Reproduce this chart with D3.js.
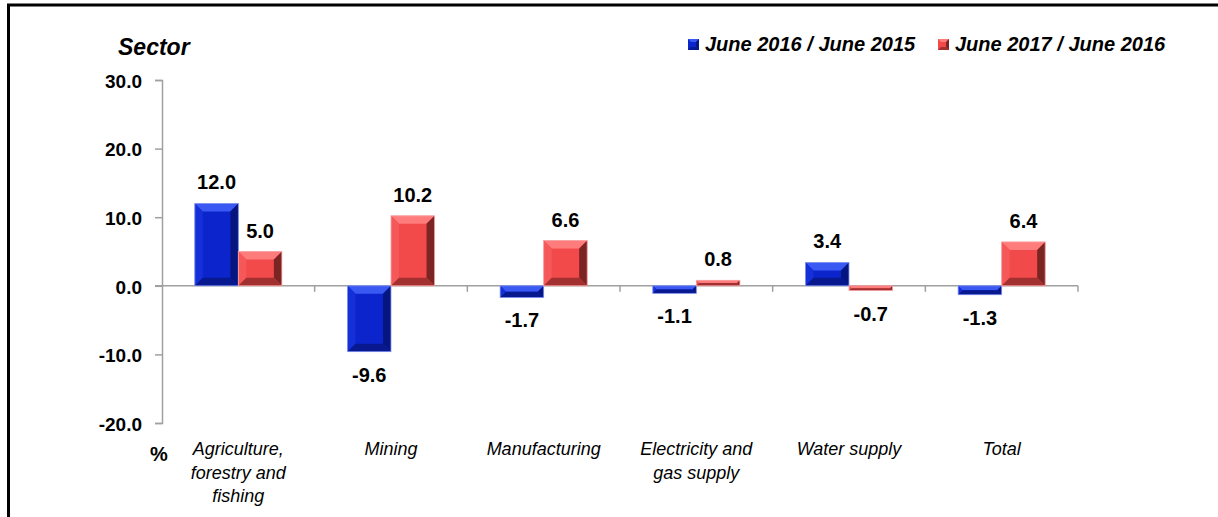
<html>
<head>
<meta charset="utf-8">
<script src="https://d3js.org/d3.v7.min.js"></script>
<style>
body { margin: 0; background: #fff; }
svg { font-family: "Liberation Sans", Arial, sans-serif; }
.tick text { font-weight: bold; font-size: 19px; fill: #000; }
</style>
</head>
<body>
<svg id="chart" width="1218" height="517"></svg>
<script>
// chart data
var categories = ["Agriculture,\nforestry and\nfishing", "Mining", "Manufacturing", "Electricity and\ngas supply", "Water supply", "Total"];
var seriesNames = ["June 2016 / June 2015", "June 2017 / June 2016"];
var june2016 = [12.0, -9.6, -1.7, -1.1, 3.4, -1.3];
var june2017 = [5.0, 10.2, 6.6, 0.8, -0.7, 6.4];
var yTicks = [-20, -10, 0, 10, 20, 30];

var fmt = function(v) { return d3.format(".1f")(v).replace("\u2212", "-"); };

var svg = d3.select("#chart");

// frame lines (top and left)
svg.append("line").attr("x1", 7).attr("x2", 1218).attr("y1", 5).attr("y2", 5)
    .attr("stroke", "#000").attr("stroke-width", 3);
svg.append("line").attr("x1", 8.5).attr("x2", 8.5).attr("y1", 4).attr("y2", 517)
    .attr("stroke", "#000").attr("stroke-width", 3);

var x = d3.scaleBand().domain(categories).range([162, 1078]).paddingInner(0).paddingOuter(0);
var xs = d3.scaleBand().domain([0, 1]).range([0, x.bandwidth()]).paddingInner(0).paddingOuter(0.754);
var y = d3.scaleLinear().domain([-20, 30]).range([423, 80]);

// y axis
var yAxis = svg.append("g").attr("transform", "translate(162,0)")
    .call(d3.axisLeft(y).tickValues(yTicks).tickSize(7).tickPadding(13).tickFormat(fmt));
yAxis.select(".domain").attr("stroke", "#a0a0a0").attr("stroke-width", 1.5);
yAxis.selectAll(".tick line").attr("stroke", "#a0a0a0").attr("stroke-width", 1.5);
yAxis.selectAll(".tick text").attr("dy", "0.38em");

// x axis at zero
var xAxis = svg.append("g").attr("transform", "translate(0," + y(0) + ")");
xAxis.append("line").attr("x1", x.range()[0] - 7).attr("x2", x.range()[1])
    .attr("stroke", "#a0a0a0").attr("stroke-width", 1.5);
var bounds = categories.map(function(c) { return x(c); }).concat([x.range()[1]]);
xAxis.selectAll("line.xt").data(bounds.slice(1)).enter().append("line")
    .attr("class", "xt")
    .attr("x1", function(d) { return d; }).attr("x2", function(d) { return d; })
    .attr("y1", 0).attr("y2", 6)
    .attr("stroke", "#a0a0a0").attr("stroke-width", 1.5);

// bevelled bar colours
var palettes = [
  { base: "#0b24cc", top: "#3a58f2", left: "#1530d8", right: "#061680", bottom: "#08198f", edge: "#8a9af0" },
  { base: "#f24a4a", top: "#ff7c7c", left: "#f55858", right: "#7a2424", bottom: "#a33030", edge: "#f7a8a8" }
];

function drawBar(g, x0, w, v, p) {
  var yTop = y(Math.max(v, 0)), yBot = y(Math.min(v, 0));
  var h = yBot - yTop;
  var b = Math.min(8, h / 2, w / 2);
  var x1 = x0 + w;
  g.append("rect").attr("x", x0).attr("y", yTop).attr("width", w).attr("height", h).attr("fill", p.base);
  var poly = function(pts, fill) {
    g.append("polygon").attr("points", pts.map(function(q) { return q.join(","); }).join(" ")).attr("fill", fill);
  };
  poly([[x0, yTop], [x1, yTop], [x1 - b, yTop + b], [x0 + b, yTop + b]], p.top);
  poly([[x0, yTop], [x0 + b, yTop + b], [x0 + b, yBot - b], [x0, yBot]], p.left);
  poly([[x1, yTop], [x1, yBot], [x1 - b, yBot - b], [x1 - b, yTop + b]], p.right);
  poly([[x0, yBot], [x0 + b, yBot - b], [x1 - b, yBot - b], [x1, yBot]], p.bottom);
  g.append("rect").attr("x", x0).attr("y", yTop).attr("width", w).attr("height", h)
    .attr("fill", "none").attr("stroke", p.edge).attr("stroke-width", 0.8);
}

var series = [june2016, june2017];
var bars = svg.append("g");
var labels = svg.append("g");
series.forEach(function(vals, si) {
  vals.forEach(function(v, i) {
    var x0 = x(categories[i]) + xs(si);
    drawBar(bars.append("g"), x0, xs.bandwidth(), v, palettes[si]);
    labels.append("text")
      .attr("x", x0 + xs.bandwidth() / 2)
      .attr("y", v >= 0 ? y(v) - 14 : y(v) + 30)
      .attr("text-anchor", "middle")
      .attr("font-weight", "bold").attr("font-size", 20)
      .text(fmt(v));
  });
});

// category labels
var catG = svg.append("g");
categories.forEach(function(c) {
  var t = catG.append("text")
    .attr("text-anchor", "middle")
    .attr("font-style", "italic").attr("font-size", 18)
    .attr("x", x(c) + x.bandwidth() / 2).attr("y", 455);
  c.split("\n").forEach(function(line, li) {
    t.append("tspan").attr("x", x(c) + x.bandwidth() / 2).attr("dy", li === 0 ? 0 : 23.5).text(line);
  });
});

// "%" unit and "Sector" title
svg.append("text").attr("x", 150).attr("y", 461).attr("font-weight", "bold").attr("font-size", 20).text("%");
svg.append("text").attr("x", 118).attr("y", 55).attr("font-weight", "bold").attr("font-style", "italic")
  .attr("font-size", 23).text("Sector");

// legend
var legendX = [688, 938];
seriesNames.forEach(function(n, i) {
  var lg = svg.append("g").attr("transform", "translate(" + legendX[i] + ",39)");
  var p = palettes[i];
  lg.append("rect").attr("width", 11).attr("height", 11).attr("fill", p.base);
  lg.append("polygon").attr("points", "0,0 11,0 8,3 3,3").attr("fill", p.top);
  lg.append("polygon").attr("points", "11,0 11,11 8,8 8,3").attr("fill", p.right);
  lg.append("polygon").attr("points", "0,11 11,11 8,8 3,8").attr("fill", p.bottom);
  lg.append("text").attr("x", 17).attr("y", 12).attr("font-weight", "bold").attr("font-style", "italic")
    .attr("font-size", 20).text(n);
});
</script>
</body>
</html>
